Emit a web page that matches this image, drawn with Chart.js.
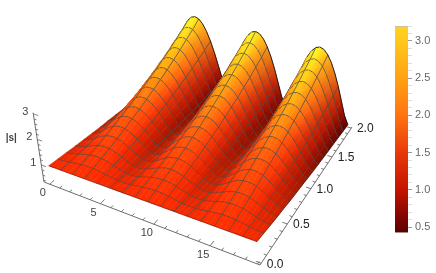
<!DOCTYPE html>
<html>
<head>
<meta charset="utf-8">
<style>
  html, body { margin: 0; background: #fff; overflow: hidden; }
  canvas { position: absolute; top: 0; filter: blur(0.4px); }
</style>
<script src="https://cdn.jsdelivr.net/npm/chart.js@4"></script>
</head>
<body>
<canvas id="surface" width="436" height="273" style="left:0"></canvas>
<canvas id="bar" width="56" height="273" style="left:380px"></canvas>
<script>
// |s|, one row per x (0 to 2 in steps of 0.125), one column per t step
const tStep = 0.3927;
const xStep = 0.125;
const s00 = [1,1,1,1,1,1,1,1,1,1,1,1,1,1,1,1,1,1,1,1,1,1,1,1,1,1,1,1,1,1,1,1,1,1,1,1,1,1,1,1,1,1,1,1,1,1,1,1,1];
const s01 = [.95,.95,.97,.99,1.02,1.04,1.06,1.08,1.08,1.08,1.06,1.04,1.02,.99,.97,.95,.95,.95,.97,.99,1.02,1.04,1.06,1.08,1.08,1.08,1.06,1.04,1.02,.99,.97,.95,.95,.95,.97,.99,1.02,1.04,1.06,1.08,1.08,1.08,1.06,1.04,1.02,.99,.97,.95,.95];
const s02 = [.90,.91,.94,.99,1.04,1.09,1.13,1.15,1.16,1.15,1.13,1.09,1.04,.99,.94,.91,.90,.91,.94,.99,1.04,1.09,1.13,1.15,1.16,1.15,1.13,1.09,1.04,.99,.94,.91,.90,.91,.94,.99,1.04,1.09,1.13,1.15,1.16,1.15,1.13,1.09,1.04,.99,.94,.91,.90];
const s03 = [.85,.87,.92,.99,1.06,1.13,1.19,1.23,1.24,1.23,1.19,1.13,1.06,.99,.92,.87,.85,.87,.92,.99,1.06,1.13,1.19,1.23,1.24,1.23,1.19,1.13,1.06,.99,.92,.87,.85,.87,.92,.99,1.06,1.13,1.19,1.23,1.24,1.23,1.19,1.13,1.06,.99,.92,.87,.85];
const s04 = [.81,.84,.91,1.00,1.11,1.20,1.28,1.32,1.34,1.32,1.28,1.20,1.11,1.00,.91,.84,.81,.84,.91,1.00,1.11,1.20,1.28,1.32,1.34,1.32,1.28,1.20,1.11,1.00,.91,.84,.81,.84,.91,1.00,1.11,1.20,1.28,1.32,1.34,1.32,1.28,1.20,1.11,1.00,.91,.84,.81];
const s05 = [.76,.80,.89,1.02,1.15,1.27,1.36,1.42,1.44,1.42,1.36,1.27,1.15,1.02,.89,.80,.76,.80,.89,1.02,1.15,1.27,1.36,1.42,1.44,1.42,1.36,1.27,1.15,1.02,.89,.80,.76,.80,.89,1.02,1.15,1.27,1.36,1.42,1.44,1.42,1.36,1.27,1.15,1.02,.89,.80,.76];
const s06 = [.72,.77,.89,1.05,1.21,1.35,1.46,1.53,1.55,1.53,1.46,1.35,1.21,1.05,.89,.77,.72,.77,.89,1.05,1.21,1.35,1.46,1.53,1.55,1.53,1.46,1.35,1.21,1.05,.89,.77,.72,.77,.89,1.05,1.21,1.35,1.46,1.53,1.55,1.53,1.46,1.35,1.21,1.05,.89,.77,.72];
const s07 = [.69,.75,.90,1.09,1.27,1.43,1.56,1.63,1.66,1.63,1.56,1.43,1.27,1.09,.90,.75,.69,.75,.90,1.09,1.27,1.43,1.56,1.63,1.66,1.63,1.56,1.43,1.27,1.09,.90,.75,.69,.75,.90,1.09,1.27,1.43,1.56,1.63,1.66,1.63,1.56,1.43,1.27,1.09,.90,.75,.69];
const s08 = [.65,.73,.91,1.13,1.35,1.53,1.67,1.76,1.79,1.76,1.67,1.53,1.35,1.13,.91,.73,.65,.73,.91,1.13,1.35,1.53,1.67,1.76,1.79,1.76,1.67,1.53,1.35,1.13,.91,.73,.65,.73,.91,1.13,1.35,1.53,1.67,1.76,1.79,1.76,1.67,1.53,1.35,1.13,.91,.73,.65];
const s09 = [.61,.71,.93,1.18,1.42,1.63,1.79,1.89,1.92,1.89,1.79,1.63,1.42,1.18,.93,.71,.61,.71,.93,1.18,1.42,1.63,1.79,1.89,1.92,1.89,1.79,1.63,1.42,1.18,.93,.71,.61,.71,.93,1.18,1.42,1.63,1.79,1.89,1.92,1.89,1.79,1.63,1.42,1.18,.93,.71,.61];
const s10 = [.58,.70,.96,1.25,1.52,1.75,1.93,2.03,2.07,2.03,1.93,1.75,1.52,1.25,.96,.70,.58,.70,.96,1.25,1.52,1.75,1.93,2.03,2.07,2.03,1.93,1.75,1.52,1.25,.96,.70,.58,.70,.96,1.25,1.52,1.75,1.93,2.03,2.07,2.03,1.93,1.75,1.52,1.25,.96,.70,.58];
const s11 = [.55,.69,.99,1.31,1.62,1.87,2.06,2.18,2.22,2.18,2.06,1.87,1.62,1.31,.99,.69,.55,.69,.99,1.31,1.62,1.87,2.06,2.18,2.22,2.18,2.06,1.87,1.62,1.31,.99,.69,.55,.69,.99,1.31,1.62,1.87,2.06,2.18,2.22,2.18,2.06,1.87,1.62,1.31,.99,.69,.55];
const s12 = [.52,.69,1.03,1.40,1.73,2.01,2.22,2.35,2.39,2.35,2.22,2.01,1.73,1.40,1.03,.69,.52,.69,1.03,1.40,1.73,2.01,2.22,2.35,2.39,2.35,2.22,2.01,1.73,1.40,1.03,.69,.52,.69,1.03,1.40,1.73,2.01,2.22,2.35,2.39,2.35,2.22,2.01,1.73,1.40,1.03,.69,.52];
const s13 = [.50,.70,1.09,1.49,1.85,2.15,2.38,2.52,2.57,2.52,2.38,2.15,1.85,1.49,1.09,.70,.50,.70,1.09,1.49,1.85,2.15,2.38,2.52,2.57,2.52,2.38,2.15,1.85,1.49,1.09,.70,.50,.70,1.09,1.49,1.85,2.15,2.38,2.52,2.57,2.52,2.38,2.15,1.85,1.49,1.09,.70,.50];
const s14 = [.47,.71,1.15,1.59,1.99,2.32,2.57,2.72,2.77,2.72,2.57,2.32,1.99,1.59,1.15,.71,.47,.71,1.15,1.59,1.99,2.32,2.57,2.72,2.77,2.72,2.57,2.32,1.99,1.59,1.15,.71,.47,.71,1.15,1.59,1.99,2.32,2.57,2.72,2.77,2.72,2.57,2.32,1.99,1.59,1.15,.71,.47];
const s15 = [.44,.72,1.21,1.69,2.12,2.48,2.75,2.91,2.97,2.91,2.75,2.48,2.12,1.69,1.21,.72,.44,.72,1.21,1.69,2.12,2.48,2.75,2.91,2.97,2.91,2.75,2.48,2.12,1.69,1.21,.72,.44,.72,1.21,1.69,2.12,2.48,2.75,2.91,2.97,2.91,2.75,2.48,2.12,1.69,1.21,.72,.44];
const s16 = [.42,.75,1.28,1.81,2.28,2.67,2.96,3.14,3.20,3.14,2.96,2.67,2.28,1.81,1.28,.75,.42,.75,1.28,1.81,2.28,2.67,2.96,3.14,3.20,3.14,2.96,2.67,2.28,1.81,1.28,.75,.42,.75,1.28,1.81,2.28,2.67,2.96,3.14,3.20,3.14,2.96,2.67,2.28,1.81,1.28,.75,.42];
const surfaceRows = [s00,s01,s02,s03,s04,s05,s06,s07,s08,s09,s10,s11,s12,s13,s14,s15,s16];

const tLabels = [0, 5, 10, 15];
const xLabels = [0, 0.5, 1, 1.5, 2];
const zLabels = [1, 2, 3];
const barValues = [0.42, 0.7, 1, 1.5, 2, 2.5, 3, 3.2];
const barColors = ['#5a0000', '#8c0800', '#c41400', '#e8380a', '#ff7410', '#ffa214', '#ffc81c', '#ffd220'];

// camera: floor corners of the box and the homography through them
const floorZ = 0.33;
const corners = [[44, 182], [260, 265], [352, 127], [166, 70]];
const [p0, p1, p2, p3] = corners;
const sx = p0[0] - p1[0] + p2[0] - p3[0], sy = p0[1] - p1[1] + p2[1] - p3[1];
const dx1 = p1[0] - p2[0], dx2 = p3[0] - p2[0], dy1 = p1[1] - p2[1], dy2 = p3[1] - p2[1];
const den = dx1 * dy2 - dx2 * dy1;
const g = (sx * dy2 - dx2 * sy) / den, h = (dx1 * sy - sx * dy1) / den;
const a = p1[0] - p0[0] + g * p1[0], b = p3[0] - p0[0] + h * p3[0];
const d = p1[1] - p0[1] + g * p1[1], e = p3[1] - p0[1] + h * p3[1];

function place(u, v, z) {
    const w = g * u + h * v + 1;
    const X = (a * u + b * v + p0[0]) / w;
    const Y = (d * u + e * v + p0[1]) / w;
    const dz = z - floorZ;
    return { x: X + (X - 245) * 0.02 * dz, y: Y - 25.5 * dz / (1 + 1.5 * g * u + 0.8 * h * v) };
}
const uOf = t => 0.03 + 0.0505 * t;
const vOf = x => 0.01 + 0.49 * x;
const node = (r, c) => place(uOf(c * tStep), vOf(r * xStep), surfaceRows[r][c]);

function mapColor(z) {
    const n = barValues.length;
    if (z <= barValues[0]) return hex(barColors[0]);
    for (let i = 1; i < n; i++) {
        if (z <= barValues[i]) {
            const k = (z - barValues[i - 1]) / (barValues[i] - barValues[i - 1]);
            const c0 = hex(barColors[i - 1]), c1 = hex(barColors[i]);
            return c0.map((v, j) => v + (c1[j] - v) * k);
        }
    }
    return hex(barColors[n - 1]);
}
function hex(s) {
    return [1, 3, 5].map(i => parseInt(s.substr(i, 2), 16));
}

// lit colour of a surface node, normal taken from the neighbours in the table
function litColor(r, c) {
    const row = surfaceRows[r];
    const c0 = Math.max(c - 1, 0), c1 = Math.min(c + 1, row.length - 1);
    const r0 = Math.max(r - 1, 0), r1 = Math.min(r + 1, surfaceRows.length - 1);
    const dzdt = (row[c1] - row[c0]) / ((c1 - c0) * tStep);
    const dzdx = (surfaceRows[r1][c] - surfaceRows[r0][c]) / ((r1 - r0) * xStep);
    let nx = -dzdt * 26 / 11.5, ny = -dzdx * 26 / 85, nz = 1;
    const len = Math.hypot(nx, ny, nz);
    nx /= len; ny /= len; nz /= len;
    const lit = Math.max(0, nx * -0.3 + ny * -0.2 + nz * 0.93);
    const base = mapColor(row[c]);
    const red = base[0] * (0.85 + 0.47 * lit);
    const green = base[1] * (0.75 + 0.35 * lit) + 24 * lit;
    return [Math.min(255, red), Math.min(255, green), Math.min(255, base[2])];
}
const css = c => `rgb(${c.map(v => Math.round(v)).join(',')})`;
const mix = (p, q) => p.map((v, i) => (v + q[i]) / 2);

// cell gradient runs along t, from the middle of one t edge to the middle of the other
function cellPaint(chart, cell) {
    if (cell.paint) return cell.paint;
    const x0 = chart.scales.x.getPixelForValue(cell.from.x), y0 = chart.scales.y.getPixelForValue(cell.from.y);
    const x1 = chart.scales.x.getPixelForValue(cell.to.x), y1 = chart.scales.y.getPixelForValue(cell.to.y);
    // options get resolved once before the scales have a size
    if (![x0, y0, x1, y1].every(Number.isFinite)) return cell.from.color;
    const grad = chart.ctx.createLinearGradient(x0, y0, x1, y1);
    grad.addColorStop(0, cell.from.color);
    grad.addColorStop(1, cell.to.color);
    cell.paint = grad;
    return grad;
}

const drawList = [];
function addLine(points, color, width) {
    drawList.push({ type: 'scatter', data: points, showLine: true, fill: false, borderColor: color, borderWidth: width, pointRadius: 0, tension: 0 });
}

// axes and their ticks, below the surface
const axisColor = '#6e6e6e';
addLine([place(0, 0, floorZ), place(1, 0, floorZ)], axisColor, 1);
addLine([place(1, 0, floorZ), place(1, 1, floorZ)], axisColor, 1);
addLine([place(0, 0, floorZ), place(0, 0, 3.05)], axisColor, 1);
for (let t = 0; t <= 19; t++) {
    const len = t % 5 === 0 ? 0.03 : 0.016;
    addLine([place(uOf(t), 0, floorZ), place(uOf(t), len, floorZ)], '#555', 0.8);
}
for (let i = 0; i <= 20; i++) {
    const len = i % 5 === 0 ? 0.022 : 0.012;
    addLine([place(1, vOf(i / 10), floorZ), place(1 - len, vOf(i / 10), floorZ)], '#555', 0.8);
}
for (let i = 2; i <= 15; i++) {
    const len = i % 5 === 0 ? 0.024 : 0.012;
    addLine([place(0, 0, i / 5), place(len, 0, i / 5)], '#666', 0.8);
}

// surface, far cells first so nearer ones paint over them
const meshColor = 'rgba(70,70,70,0.8)';
const nRows = surfaceRows.length, nCols = s00.length;
for (let c = 0; c < nCols - 1; c++) {
    for (let r = nRows - 2; r >= 0; r--) {
        const pts = [node(r, c), node(r, c + 1), node(r + 1, c + 1), node(r + 1, c)];
        const cell = {
            from: { x: (pts[0].x + pts[3].x) / 2, y: (pts[0].y + pts[3].y) / 2, color: css(mix(litColor(r, c), litColor(r + 1, c))) },
            to: { x: (pts[1].x + pts[2].x) / 2, y: (pts[1].y + pts[2].y) / 2, color: css(mix(litColor(r, c + 1), litColor(r + 1, c + 1))) }
        };
        drawList.push({
            type: 'scatter',
            data: pts.concat([pts[0]]),
            showLine: true,
            fill: 'shape',
            tension: 0,
            pointRadius: 0,
            borderWidth: 0.6,
            backgroundColor: ctx => cellPaint(ctx.chart, cell),
            borderColor: ctx => cellPaint(ctx.chart, cell)
        });
        if (c % 3 === 0 && c > 0) addLine([pts[0], pts[3]], meshColor, 0.9);
        if (r < nRows - 2) addLine([pts[3], pts[2]], meshColor, 0.9);
        else addLine([pts[3], pts[2]], '#111', 0.9);
        if (r === 0) addLine([pts[0], pts[1]], 'rgba(20,0,0,0.7)', 0.6);
        if (c === nCols - 2) addLine([pts[1], pts[2]], 'rgba(20,0,0,0.7)', 0.6);
    }
}

const axisLabels = {
    id: 'axisLabels',
    afterDraw(chart) {
        const ctx = chart.ctx, ox = chart.scales.x, oy = chart.scales.y;
        const put = (text, p, dx, dy, color) => {
            ctx.fillStyle = color;
            ctx.fillText(text, ox.getPixelForValue(p.x) + dx, oy.getPixelForValue(p.y) + dy);
        };
        ctx.save();
        ctx.font = '11px "Liberation Sans"';
        ctx.textAlign = 'center';
        ctx.textBaseline = 'middle';
        tLabels.forEach(t => put(String(t), place(uOf(t), 0, floorZ), -7, 9, '#444'));
        zLabels.forEach(z => put(String(z), place(0, 0, z), -8, -2, '#444'));
        ctx.font = '12px "Liberation Sans"';
        xLabels.forEach(x => put(x.toFixed(1), place(1, vOf(x), floorZ), 14, 1, '#222'));
        ctx.font = 'bold 10px "Liberation Sans"';
        put('|s|', place(0, 0, 2), -26, -1, '#444');
        ctx.restore();
    }
};

new Chart(document.getElementById('surface'), {
    type: 'scatter',
    data: { datasets: drawList.reverse() },
    options: {
        responsive: false,
        animation: false,
        events: [],
        layout: { padding: 0 },
        plugins: { legend: { display: false }, tooltip: { enabled: false } },
        scales: {
            x: { type: 'linear', min: 0, max: 436, display: false },
            y: { type: 'linear', min: 0, max: 273, reverse: true, display: false }
        }
    },
    plugins: [axisLabels]
});

// colour bar, its own small chart with a real value axis
new Chart(document.getElementById('bar'), {
    type: 'bar',
    data: {
        labels: [''],
        datasets: [{
            data: [[barValues[0], barValues[barValues.length - 1]]],
            barPercentage: 1,
            categoryPercentage: 1,
            borderColor: '#bdbdbd',
            borderWidth: { top: 1, bottom: 1, left: 0, right: 0 },
            borderSkipped: false,
            backgroundColor: ctx => {
                const y = ctx.chart.scales.y;
                const y0 = y.getPixelForValue(barValues[0]), y1 = y.getPixelForValue(barValues[barValues.length - 1]);
                if (!Number.isFinite(y0) || !Number.isFinite(y1)) return barColors[0];
                const grad = ctx.chart.ctx.createLinearGradient(0, y0, 0, y1);
                barValues.forEach((v, i) => grad.addColorStop((v - barValues[0]) / (barValues[barValues.length - 1] - barValues[0]), barColors[i]));
                return grad;
            }
        }]
    },
    options: {
        responsive: false,
        animation: false,
        events: [],
        layout: { padding: { left: 15, top: 26, bottom: 40, right: 0 } },
        plugins: { legend: { display: false }, tooltip: { enabled: false } },
        scales: {
            x: { display: false },
            y: {
                position: 'right',
                min: barValues[0],
                max: barValues[barValues.length - 1],
                afterFit: s => { s.width = 28; },
                border: { display: false },
                grid: {
                    drawOnChartArea: false,
                    tickLength: 4,
                    tickColor: c => Math.abs(c.tick.value * 2 - Math.round(c.tick.value * 2)) < 0.01 ? '#999' : '#ddd'
                },
                ticks: {
                    stepSize: 0.1,
                    includeBounds: false,
                    autoSkip: false,
                    padding: 3,
                    color: '#666',
                    font: { family: 'Liberation Sans', size: 11 },
                    callback: v => Math.abs(v * 2 - Math.round(v * 2)) < 0.01 ? v.toFixed(1) : ''
                }
            }
        }
    }
});
</script>
</body>
</html>
